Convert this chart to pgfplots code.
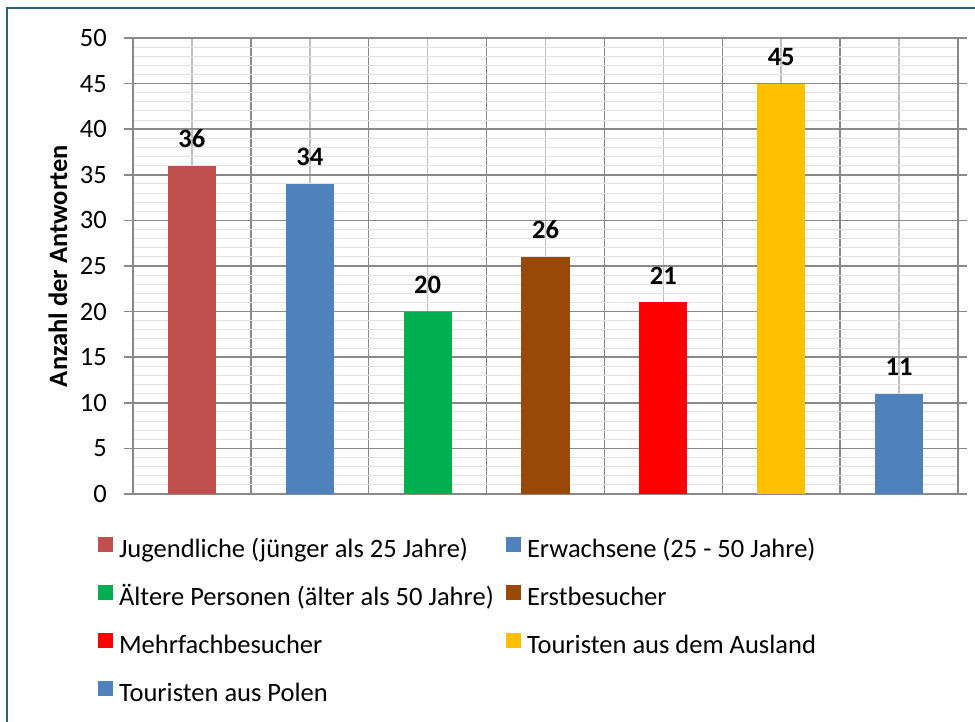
\documentclass[border=0pt]{standalone}
\usepackage{fontspec}
\setmainfont{Carlito}
\usepackage{pgfplots}
\pgfplotsset{compat=1.18}
\definecolor{cJug}{HTML}{C0504D}
\definecolor{cErw}{HTML}{4F81BD}
\definecolor{cAlt}{HTML}{00B050}
\definecolor{cErst}{HTML}{984807}
\definecolor{cMehr}{HTML}{FF0000}
\definecolor{cAus}{HTML}{FFC000}
\definecolor{cPol}{HTML}{4F81BD}
\definecolor{gridmaj}{HTML}{898989}
\definecolor{gridmid}{HTML}{BEBEBE}
\definecolor{gridfine}{HTML}{E2E2E2}
\definecolor{framec}{HTML}{2F6477}
\newcommand{\colone}[1]{\makebox[381pt][l]{#1}}

\begin{document}
\fontsize{26.5}{31}\selectfont
\begin{tikzpicture}[x=1pt,y=1pt]
\useasboundingbox (0,0) rectangle (975,722);
\draw[framec, line width=2pt] (7,-5) -- (7,714) -- (985,714);
\begin{axis}[
  at={(133pt,228pt)}, anchor=south west,
  width=825pt, height=456pt, scale only axis,
  xmin=-0.5, xmax=6.5, ymin=0, ymax=50,
  ybar, bar width=48pt,
  xtick={-0.5,0.5,1.5,2.5,3.5,4.5,5.5,6.5},
  minor xtick={0,1,2,3,4,5,6},
  xticklabel=\empty,
  ytick={0,5,...,50},
  minor y tick num=4,
  grid=both,
  major grid style={gridmaj, line width=1.5pt},
  minor x grid style={gridmid, line width=1.5pt},
  minor y grid style={gridfine, line width=1pt},
  axis line style={gridmaj, line width=1.5pt},
  tick align=outside, major tick length=9pt, minor tick length=0pt,
  x tick style={draw=none},
  y tick style={gridmaj, line width=1.5pt},
  /pgf/number format/assume math mode=true,
  yticklabel style={inner xsep=0pt, xshift=-17pt, font=\fontsize{26.5}{31}\selectfont},
  ylabel={\bfseries Anzahl der Antworten},
  ylabel style={at={(axis description cs:-0.0909,0.5)}, anchor=center, font=\fontsize{26.5}{31}\selectfont},
  nodes near coords,
  every node near coord/.append style={font=\fontsize{26.5}{31}\selectfont\bfseries, anchor=base, yshift=18pt, inner sep=0pt, black},
  legend columns=2,
  legend cell align=left,
  legend image code/.code={\fill[#1] (0pt,0pt) rectangle (15pt,15pt);},
  legend style={at={(axis description cs:-0.0424,-0.094)}, anchor=north west,
    draw=none, fill=none, inner sep=0pt, outer sep=0pt,
    /tikz/column sep=6pt, /tikz/row sep=21pt,
    font=\fontsize{26.5}{31}\selectfont,
    nodes={inner sep=0pt, text height=18pt, text depth=6pt}},
]
\addplot[fill=cJug, draw=none, bar shift=0pt] coordinates {(0,36)};
\addplot[fill=cErw, draw=none, bar shift=0pt] coordinates {(1,34)};
\addplot[fill=cAlt, draw=none, bar shift=0pt] coordinates {(2,20)};
\addplot[fill=cErst, draw=none, bar shift=0pt] coordinates {(3,26)};
\addplot[fill=cMehr, draw=none, bar shift=0pt] coordinates {(4,21)};
\addplot[fill=cAus, draw=none, bar shift=0pt] coordinates {(5,45)};
\addplot[fill=cPol, draw=none, bar shift=0pt] coordinates {(6,11)};
\legend{\colone{Jugendliche (jünger als 25 Jahre)}, Erwachsene (25 - 50 Jahre),
  \colone{Ältere Personen (älter als 50 Jahre)}, Erstbesucher,
  \colone{Mehrfachbesucher}, Touristen aus dem Ausland,
  \colone{Touristen aus Polen}}
\end{axis}
\end{tikzpicture}
\end{document}
